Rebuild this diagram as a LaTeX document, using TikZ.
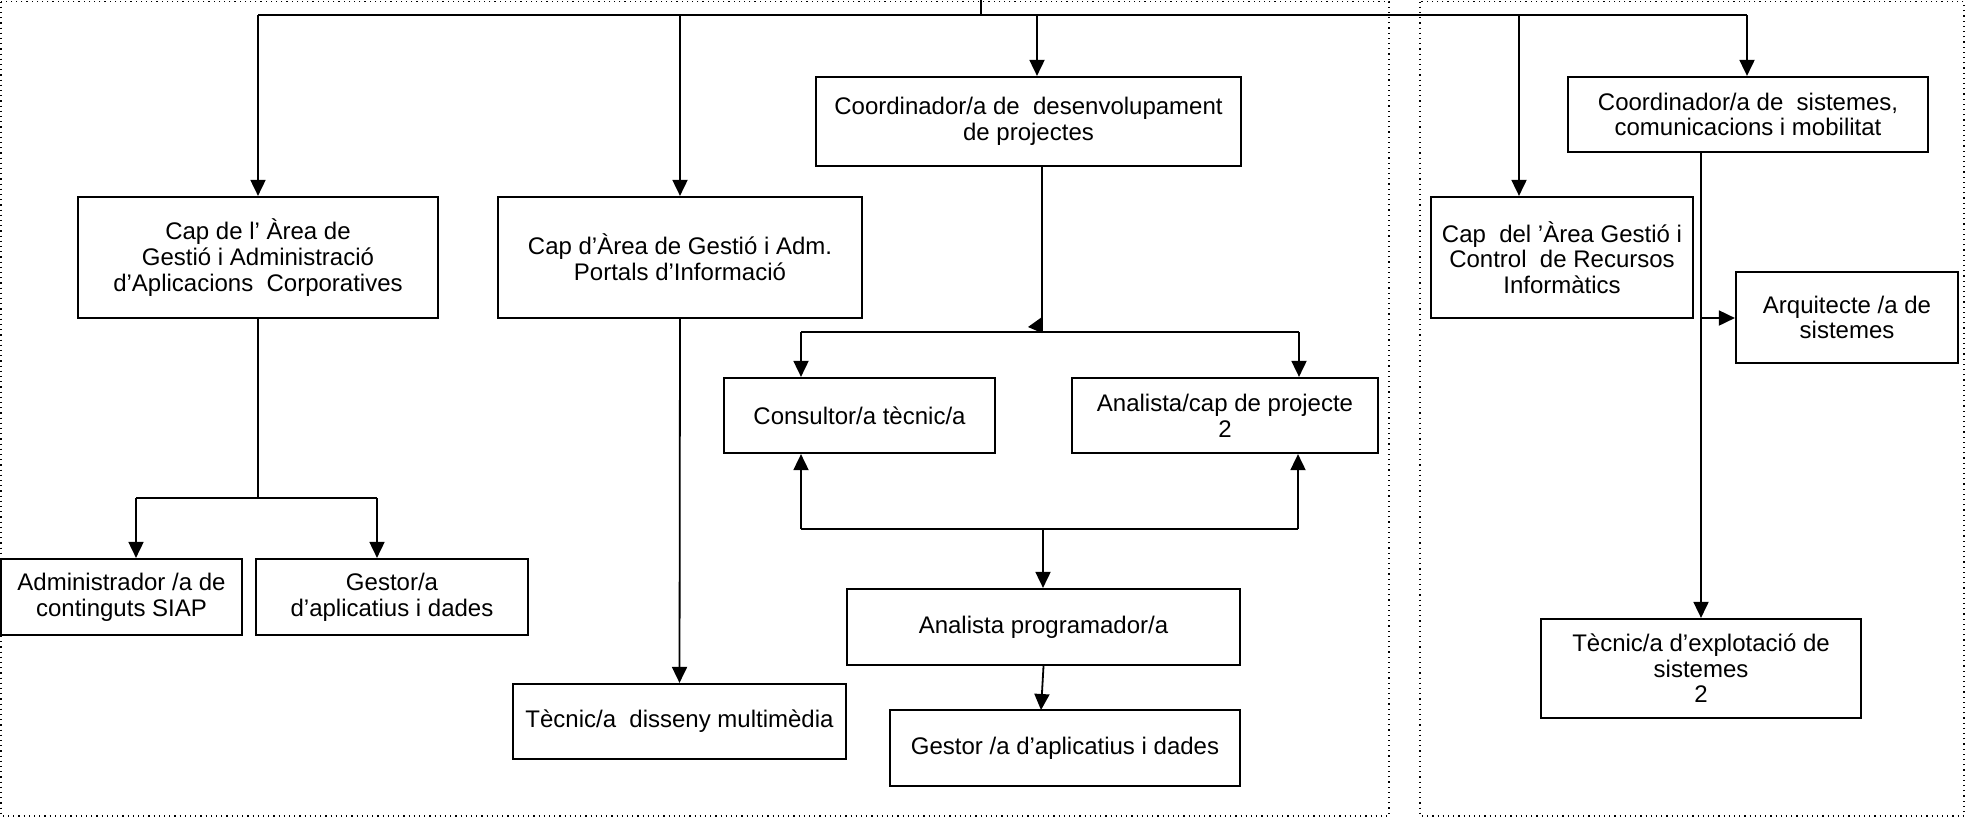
\documentclass[tikz,border=0pt]{standalone}
\usepackage{fontspec}
\setmainfont{Liberation Sans}
\usetikzlibrary{arrows.meta}
\newcommand\bxfont{\fontsize{12}{12.8}\selectfont}
\tikzset{
  box/.style={draw, line width=1.1pt, inner sep=0pt, align=center, font=\bxfont},
  ln/.style={line width=0.9pt},
  arr/.style={ln, -{Triangle[length=8pt,width=7.5pt]}},
  frame/.style={dotted, line width=0.6pt}
}
\begin{document}
\begin{tikzpicture}[x=0.5pt,y=-0.5pt]
\useasboundingbox (0,0) rectangle (1968,820);
% dotted frames
\draw[frame] (1,1.5) rectangle (1389,816);
\draw[frame] (1420,1.5) rectangle (1964,816);
% boxes
\node[box, minimum width=180pt, minimum height=60.5pt] (b1) at (258,257.5) {Cap de l’ Àrea de\\Gestió i Administració\\d’Aplicacions~ Corporatives};
\node[box, minimum width=182pt, minimum height=60.5pt] (b2) at (680,257.5) {Cap d’Àrea de Gestió i Adm.\\Portals d’Informació};
\node[box, minimum width=212.5pt, minimum height=44.5pt] (b3) at (1028.5,121.5) {Coordinador/a de~ desenvolupament\\de projectes};
\node[box, minimum width=131pt, minimum height=60.5pt] (b4) at (1562,257.5) {Cap~ del ’Àrea Gestió i\\Control~ de Recursos\\Informàtics};
\node[box, minimum width=180pt, minimum height=37.5pt] (b5) at (1748,114.5) {Coordinador/a de~ sistemes,\\comunicacions i mobilitat};
\node[box, minimum width=111pt, minimum height=45.5pt] (b6) at (1847,317.5) {Arquitecte /a de\\sistemes};
\node[box, minimum width=135.5pt, minimum height=37.5pt] (b7) at (859.5,415.5) {Consultor/a tècnic/a};
\node[box, minimum width=153pt, minimum height=37.5pt] (b8) at (1225,415.5) {Analista/cap de projecte\\2};
\node[box, minimum width=120.5pt, minimum height=38pt] (b9) at (121.5,597) {Administrador /a de\\continguts SIAP};
\node[box, minimum width=136pt, minimum height=38pt] (b10) at (392,597) {Gestor/a\\d’aplicatius i dades};
\node[box, minimum width=166.5pt, minimum height=37.5pt] (b11) at (679.5,721.5) {Tècnic/a~ disseny multimèdia};
\node[box, minimum width=196.5pt, minimum height=38pt] (b12) at (1043.5,627) {Analista programador/a};
\node[box, minimum width=175pt, minimum height=38pt] (b13) at (1065,748) {Gestor /a d’aplicatius i dades};
\node[box, minimum width=160pt, minimum height=49.5pt] (b14) at (1701,668.5) {Tècnic/a d’explotació de\\sistemes\\2};
% top bus
\coordinate (t0) at (981,0);
\coordinate (t1) at (981,15);
\coordinate (busL) at (258,15);
\coordinate (d2) at (680,15);
\coordinate (d3) at (1037,15);
\coordinate (d4) at (1519,15);
\coordinate (busR) at (1747,15);
\draw[ln] (t0) -- (t1);
\draw[ln] (busL) -- (busR);
\draw[arr] (busL) -- (b1.north);
\draw[arr] (d2) -- (b2.north);
\draw[arr] (d3) -- (d3 |- b3.north);
\draw[arr] (d4) -- (d4 |- b4.north);
\draw[arr] (busR) -- (busR |- b5.north);
% left branch
\coordinate (j1) at (258,498);
\coordinate (j1L) at (136,498);
\coordinate (j1R) at (377,498);
\draw[ln] (b1.south) -- (j1);
\draw[ln] (j1L) -- (j1R);
\draw[arr] (j1L) -- (j1L |- b9.north);
\draw[arr] (j1R) -- (j1R |- b10.north);
% portals
\draw[arr] (b2.south) -- (b11.north);
% coordinator of development
\coordinate (j3) at (1042,332);
\coordinate (j3L) at (801,332);
\coordinate (j3R) at (1299,332);
\draw[ln] (j3 |- b3.south) -- (j3);
\fill (1042,317) -- (1028,327) -- (1042,333) -- cycle;
\draw[ln] (j3L) -- (j3R);
\draw[arr] (j3L) -- (j3L |- b7.north);
\draw[arr] (j3R) -- (j3R |- b8.north);
\coordinate (j4L) at (801,529);
\coordinate (j4R) at (1298,529);
\coordinate (j4) at (1043,529);
\draw[ln] (j4L) -- (j4R);
\draw[arr] (j4L) -- (j4L |- b7.south);
\draw[arr] (j4R) -- (j4R |- b8.south);
\draw[arr] (j4) -- (j4 |- b12.north);
\coordinate (k2) at (1041,710);
\draw[arr] (b12.south) -- (k2);
% systems
\coordinate (j5) at (1701,318);
\draw[arr] (b14.north |- b5.south) -- (b14.north);
\draw[arr] (j5) -- (j5 -| b6.west);
\end{tikzpicture}
\end{document}
